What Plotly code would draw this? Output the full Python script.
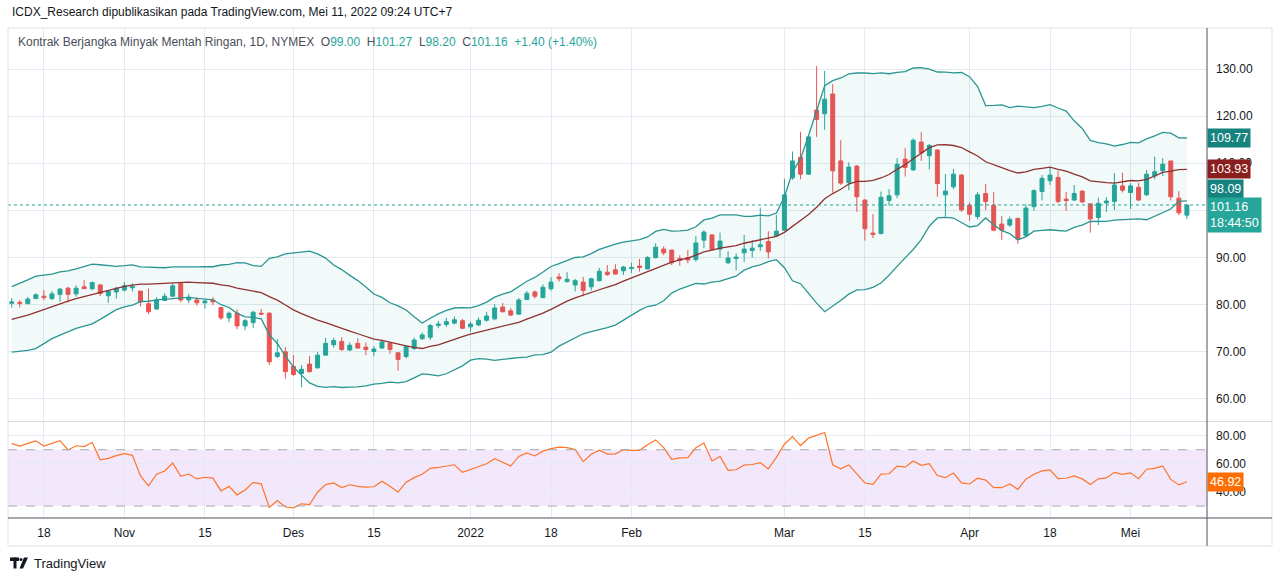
import numpy as np
import pandas as pd
import plotly.graph_objects as go

W, H = 1280, 581

# closes before the first visible session, only used to warm up the indicators
prior_close = [66.29, 66.59, 65.46, 63.69, 62.32, 65.64, 67.54, 68.36, 67.42, 68.74,
               69.21, 68.50, 68.59, 69.99, 69.29, 68.35, 69.30, 68.14, 69.72, 70.45,
               70.46, 72.61, 72.61, 71.97, 70.29, 70.56, 72.23, 73.30, 73.98, 75.45,
               75.29, 74.83, 75.03, 75.88, 77.62, 78.93, 77.43, 78.30, 79.35, 80.52]

holidays = ["2021-11-25", "2021-12-24", "2022-01-17", "2022-02-21", "2022-04-15"]
days = [d.strftime("%Y-%m-%d") for d in pd.bdate_range("2021-10-12", "2022-05-11")
        if d.strftime("%Y-%m-%d") not in holidays]

open_ = [80.3, 80.5, 80.2, 81.3, 81.8, 81.3, 82.2, 83.5, 82.3, 83.8, 83.4, 84.2, 81.9, 82.7,
         83.1, 83.6, 82.9, 80.2, 79.1, 80.9, 81.8, 84.5, 81.0, 81.0, 80.4, 81.0, 79.4, 77.2,
         78.2, 75.5, 76.2, 78.2, 78.2, 69.0, 70.0,
         66.9, 65.4, 67.4, 66.6, 69.3, 71.5, 72.2, 70.4, 71.8, 71.0, 70.1, 70.8, 71.8, 69.8,
         69.0, 70.7, 72.8, 73.1, 75.6, 75.8, 76.1, 76.6,
         75.3, 75.7, 76.7, 77.0, 79.5, 78.7, 78.0, 81.1, 82.7, 81.5, 83.4, 85.9, 84.9, 84.2,
         84.8, 83.8, 85.1, 86.9, 87.4, 87.2,
         87.7, 88.2, 87.6, 90.0, 91.8, 91.6, 89.8, 90.0, 89.6, 93.7, 94.8, 91.8, 88.9, 89.8,
         91.0, 91.5, 92.3, 93.4, 94.6,
         95.8, 106.9, 111.3, 107.7, 121.3, 120.5, 124.7, 110.5, 105.9, 109.4, 102.2, 95.2,
         95.1, 102.1, 103.3, 110.9, 108.6, 114.5, 111.6, 112.8, 103.3, 105.0, 107.5,
         101.1, 98.7, 103.6, 101.1, 97.1, 96.9, 98.3, 94.7, 100.8, 104.0, 106.3, 107.0,
         102.4, 102.2, 104.1, 101.4, 98.5, 101.6, 101.9, 105.2,
         103.8, 104.9, 103.3, 107.3, 108.4, 110.5, 102.6, 99.00]
high = [81.4, 81.0, 81.6, 82.4, 83.1, 82.9, 83.5, 83.8, 84.1, 85.2, 84.9, 84.3, 83.0, 83.8,
        84.8, 84.5, 82.9, 83.4, 81.6, 82.4, 84.5, 84.7, 82.3, 81.6, 81.0, 81.6, 79.4, 78.6,
        79.0, 77.0, 78.7, 79.1, 78.4, 72.7, 71.0,
        69.3, 67.2, 69.1, 70.0, 73.0, 73.0, 73.1, 72.0, 72.9, 72.0, 71.2, 72.4, 72.1, 69.8,
        71.4, 73.0, 74.1, 75.9, 76.6, 77.2, 77.5, 77.0,
        76.4, 77.3, 78.5, 80.1, 80.4, 79.3, 81.4, 82.9, 83.0, 84.3, 85.8, 86.7, 86.9, 85.5,
        85.9, 85.7, 87.8, 88.4, 88.6, 88.2,
        88.9, 89.7, 90.3, 93.0, 92.4, 91.6, 90.5, 91.6, 94.6, 95.8, 95.0, 95.3, 91.3, 90.9,
        94.8, 93.7, 100.6, 95.6, 99.0,
        106.7, 112.5, 116.7, 115.8, 130.6, 129.6, 126.8, 114.9, 110.2, 109.6, 102.4, 99.2,
        104.0, 104.5, 111.1, 113.2, 115.3, 116.6, 114.1, 113.0, 107.7, 108.8, 107.7,
        101.7, 103.9, 105.6, 103.9, 98.8, 98.7, 98.5, 101.3, 104.5, 107.5, 109.1, 108.4,
        103.9, 105.4, 104.2, 101.5, 102.7, 102.8, 107.9, 108.0,
        105.8, 105.8, 108.6, 111.4, 111.1, 110.5, 104.1, 101.27]
low = [79.4, 79.4, 80.2, 81.3, 81.0, 81.0, 80.6, 80.5, 81.7, 83.4, 83.0, 81.8, 80.4, 81.3,
       82.8, 82.8, 79.6, 78.0, 78.9, 80.8, 81.7, 80.5, 80.3, 79.8, 79.2, 79.9, 76.8, 76.3,
       74.8, 74.6, 75.1, 77.8, 67.2, 68.7, 64.3,
       64.9, 62.5, 65.6, 66.5, 69.3, 70.9, 70.2, 70.2, 70.7, 69.3, 69.1, 70.7, 69.6, 66.0,
       68.6, 70.4, 72.5, 72.5, 75.0, 75.3, 75.8, 74.8,
       74.3, 75.5, 76.4, 76.7, 78.4, 77.6, 77.9, 81.0, 81.3, 81.4, 83.0, 84.9, 84.7, 82.8,
       81.8, 83.0, 84.9, 86.1, 86.4, 86.3,
       86.7, 87.0, 87.5, 89.8, 90.5, 88.4, 88.3, 88.8, 89.1, 92.0, 91.6, 90.0, 88.6, 87.3,
       89.1, 90.0, 91.4, 89.8, 94.6,
       95.8, 106.5, 106.6, 107.5, 115.6, 117.1, 103.8, 105.4, 104.3, 99.7, 93.6, 94.1,
       94.9, 101.0, 102.6, 107.2, 108.4, 110.5, 108.7, 102.9, 98.7, 104.5, 99.7,
       97.8, 98.1, 100.1, 95.6, 93.7, 96.5, 92.9, 94.5, 99.9, 102.1, 105.4, 101.5,
       99.9, 102.0, 101.6, 95.3, 96.9, 99.7, 100.1, 103.8,
       100.3, 102.0, 103.1, 106.6, 107.3, 102.1, 99.0, 98.20]
close = [80.6, 80.3, 81.2, 82.1, 81.5, 82.3, 83.3, 82.2, 83.5, 83.4, 84.7, 82.4, 82.8, 83.5,
         84.0, 83.8, 80.6, 78.5, 81.0, 81.8, 84.0, 81.0, 81.6, 80.4, 80.8, 80.6, 77.2, 78.2,
         75.5, 76.6, 78.4, 78.0, 67.9, 69.8, 65.8,
         65.2, 66.3, 65.8, 69.3, 71.8, 72.4, 70.5, 71.4, 70.8, 70.5, 70.6, 72.1, 70.5, 68.4,
         71.1, 72.5, 73.6, 75.6, 75.9, 76.4, 76.8, 75.0,
         75.9, 76.7, 77.6, 79.3, 78.5, 77.8, 81.0, 82.4, 81.8, 83.7, 84.8, 85.5, 85.4, 85.1,
         83.0, 85.5, 87.1, 86.4, 86.5, 88.0,
         87.9, 87.9, 90.0, 92.2, 91.0, 88.9, 89.4, 89.5, 93.1, 95.4, 91.7, 93.5, 89.9, 90.1,
         91.8, 92.0, 92.7, 91.2, 95.6,
         103.3, 110.5, 107.7, 115.6, 119.3, 123.6, 108.4, 105.8, 109.2, 102.9, 96.1, 94.9,
         102.8, 103.1, 109.8, 109.1, 114.9, 112.2, 113.8, 105.7, 104.1, 107.7, 100.1,
         99.2, 103.3, 101.9, 95.8, 95.8, 98.1, 93.9, 100.5, 104.2, 106.8, 107.5, 101.9,
         102.1, 103.6, 101.8, 98.2, 101.5, 102.0, 105.4, 104.3,
         105.2, 102.2, 107.7, 108.2, 109.8, 102.9, 99.5, 101.16]

tick_days = ["2021-10-18", "2021-11-01", "2021-11-15", "2021-12-01", "2021-12-15", "2022-01-03",
             "2022-01-18", "2022-02-01", "2022-03-01", "2022-03-15", "2022-04-01", "2022-04-18",
             "2022-05-02"]
tick_text = ["18", "Nov", "15", "Des", "15", "2022", "18", "Feb", "Mar", "15", "Apr", "18", "Mei"]

# values shown in the price-scale labels / legend
bb_upper_last, bb_basis_last, bb_lower_last = 109.77, 103.93, 98.09
rsi_last = 46.92
countdown = "18:44:50"
change_text = "+1.40 (+1.40%)"

# ---- indicators: Bollinger Bands (20, 2) and RSI (14)
all_close = pd.Series(prior_close + close)
basis = all_close.rolling(20).mean()
dev = all_close.rolling(20).std(ddof=0)
n_prior = len(prior_close)
bb_basis = basis[n_prior:].to_numpy()
bb_upper = (basis + 2 * dev)[n_prior:].to_numpy()
bb_lower = (basis - 2 * dev)[n_prior:].to_numpy()

diff = all_close.diff().to_numpy()[1:]
gains, losses = np.clip(diff, 0, None), np.clip(-diff, 0, None)
ag, al = gains[:14].mean(), losses[:14].mean()
rsi_all = [np.nan] * 14
for g, l in zip(gains[14:], losses[14:]):
    ag = (ag * 13 + g) / 14
    al = (al * 13 + l) / 14
    rsi_all.append(100 - 100 / (1 + ag / al) if al > 0 else 100)
rsi = np.array(rsi_all)[n_prior - 1:]

# ---- geometry helpers (pixel -> paper)
def px(x):
    return x / W

def py(y):
    return 1 - y / H

X0, X1 = 8, 1207
grid = "#e4eaf1"
teal, red = "#26A69A", "#EF5350"
font = "Liberation Sans"

fig = go.Figure()
fig.add_trace(go.Candlestick(
    x=days, open=open_, high=high, low=low, close=close,
    increasing=dict(line=dict(color=teal, width=1), fillcolor=teal),
    decreasing=dict(line=dict(color=red, width=1), fillcolor=red),
    whiskerwidth=0, xaxis="x", yaxis="y", showlegend=False, hoverinfo="skip"))
fig.add_trace(go.Scatter(x=days, y=bb_upper, mode="lines", line=dict(color="#2b9691", width=1.3),
                         xaxis="x", yaxis="y3", showlegend=False, hoverinfo="skip"))
fig.add_trace(go.Scatter(x=days, y=bb_lower, mode="lines", line=dict(color="#2b9691", width=1.3),
                         fill="tonexty", fillcolor="rgba(38,150,145,0.06)",
                         xaxis="x", yaxis="y3", showlegend=False, hoverinfo="skip"))
fig.add_trace(go.Scatter(x=days, y=bb_basis, mode="lines", line=dict(color="#8e3131", width=1.3),
                         xaxis="x", yaxis="y3", showlegend=False, hoverinfo="skip"))
fig.add_trace(go.Scatter(x=days, y=rsi, mode="lines", line=dict(color="#FF7428", width=1.2),
                         xaxis="x2", yaxis="y2", showlegend=False, hoverinfo="skip"))

xr = [-0.46, 148.5]
axis_font = dict(family=font, size=12, color="#131722")
fig.update_layout(
    width=W, height=H, margin=dict(l=0, r=0, t=0, b=0),
    paper_bgcolor="white", plot_bgcolor="rgba(0,0,0,0)",
    font=dict(family=font, size=12, color="#131722"),
    xaxis=dict(domain=[px(X0), px(X1)], anchor="y", type="category", range=xr,
               rangeslider=dict(visible=False), tickvals=tick_days, ticktext=tick_text,
               showticklabels=False, showgrid=True, gridcolor=grid, zeroline=False,
               matches="x2"),
    xaxis2=dict(domain=[px(X0), px(X1)], anchor="y2", type="category", range=xr,
                tickvals=tick_days, ticktext=tick_text, showgrid=True, gridcolor=grid,
                tickfont=axis_font, ticks="", ticklabelstandoff=6, zeroline=False),
    yaxis=dict(domain=[py(421), py(28)], anchor="x", side="right", range=[55.33, 138.7],
               dtick=10, tickformat=".2f", showgrid=True, gridcolor=grid, zeroline=False,
               tickfont=axis_font, ticks="", ticklabelstandoff=8),
    # the bands sit on their own (hidden) overlay scale, as in the original
    yaxis3=dict(overlaying="y", range=[56.06, 130.63], visible=False),
    yaxis2=dict(domain=[py(518), py(422)], anchor="x2", side="right", range=[21.5, 89.7],
                tickvals=[40, 60, 80], tickformat=".2f", showgrid=True, gridcolor=grid,
                zeroline=False, tickfont=axis_font, ticks="", ticklabelstandoff=8),
)

shapes = [
    # RSI band 30-70
    dict(type="rect", xref="paper", yref="y2", x0=px(X0), x1=px(X1), y0=30, y1=70,
         fillcolor="#f3e7fc", line=dict(width=0), layer="below"),
    dict(type="line", xref="paper", yref="y2", x0=px(X0), x1=px(X1), y0=70, y1=70,
         line=dict(color="#a5a7b0", width=1, dash="dash")),
    dict(type="line", xref="paper", yref="y2", x0=px(X0), x1=px(X1), y0=30, y1=30,
         line=dict(color="#a5a7b0", width=1, dash="dash")),
    # last price dotted line
    dict(type="line", xref="paper", yref="y", x0=px(X0), x1=px(X1), y0=close[-1], y1=close[-1],
         line=dict(color=teal, width=1, dash="dot")),
    # chart frame
    dict(type="rect", xref="paper", yref="paper", x0=px(8), x1=px(1272), y0=py(546), y1=py(28),
         line=dict(color="#e0e3eb", width=1)),
    dict(type="line", xref="paper", yref="paper", x0=px(8), x1=px(1272), y0=py(421.5), y1=py(421.5),
         line=dict(color="#d6d9e0", width=1)),
    dict(type="line", xref="paper", yref="paper", x0=px(8), x1=px(1272), y0=py(518), y1=py(518),
         line=dict(color="#50535e", width=1)),
    dict(type="line", xref="paper", yref="paper", x0=px(1207), x1=px(1207), y0=py(546), y1=py(28),
         line=dict(color="#50535e", width=1)),
    # TradingView logo
    dict(type="rect", xref="paper", yref="paper", x0=px(10), x1=px(19), y0=py(561), y1=py(557.5),
         fillcolor="#131722", line=dict(width=0)),
    dict(type="rect", xref="paper", yref="paper", x0=px(13.5), x1=px(16.5), y0=py(568.5), y1=py(557.5),
         fillcolor="#131722", line=dict(width=0)),
    dict(type="circle", xref="paper", yref="paper", x0=px(19.5), x1=px(22.5), y0=py(561), y1=py(558),
         fillcolor="#131722", line=dict(width=0)),
    dict(type="path", xref="paper", yref="paper",
         path=f"M {px(24)} {py(557.5)} L {px(28)} {py(557.5)} L {px(23)} {py(568.5)} L {px(19.5)} {py(568.5)} Z",
         fillcolor="#131722", line=dict(width=0)),
]
fig.update_layout(shapes=shapes)


def price_label(text, y, yref, bg, yshift=0, yanchor="middle"):
    return dict(x=px(1207), xref="paper", xanchor="left", y=y, yref=yref, yanchor=yanchor,
                yshift=yshift, text=text, showarrow=False, align="left", bgcolor=bg,
                borderpad=2, font=dict(family=font, size=12.5, color="white"))


def val(v):
    return f"<span style='color:{teal}'>{v:.2f}</span>"


legend_text = ("Kontrak Berjangka Minyak Mentah Ringan, 1D, NYMEX&nbsp;&nbsp;"
               f"O{val(open_[-1])}&nbsp;&nbsp;H{val(high[-1])}&nbsp;&nbsp;"
               f"L{val(low[-1])}&nbsp;&nbsp;C{val(close[-1])}&nbsp;&nbsp;"
               f"<span style='color:{teal}'>{change_text}</span>")

annotations = [
    dict(x=px(10), y=py(12), xref="paper", yref="paper", xanchor="left", yanchor="middle",
         text="ICDX_Research dipublikasikan pada TradingView.com, Mei 11, 2022 09:24 UTC+7",
         showarrow=False, font=dict(family=font, size=12, color="#131722")),
    dict(x=px(16), y=py(42), xref="paper", yref="paper", xanchor="left", yanchor="middle",
         text=legend_text, showarrow=False, font=dict(family=font, size=12, color="#4a4e59")),
    dict(x=px(32), y=py(563), xref="paper", yref="paper", xanchor="left", yanchor="middle",
         text="TradingView", showarrow=False, font=dict(family=font, size=13, color="#131722")),
    price_label(f"{bb_upper_last:.2f}", bb_upper_last, "y3", "#16837f"),
    price_label(f"{bb_basis_last:.2f}", bb_basis_last, "y3", "#8a1d1d"),
    price_label(f"{bb_lower_last:.2f}", bb_lower_last, "y3", "#16837f", yshift=10.5),
    price_label(f"{close[-1]:.2f}<br>{countdown}", close[-1], "y", teal, yshift=8, yanchor="top"),
    price_label(f"{rsi_last:.2f}", rsi_last, "y2", "#FF6D00"),
]
fig.update_layout(annotations=annotations)

# drop the browser's default page margin so the figure fills the window exactly
fig.write_html("out.html", config={"displayModeBar": False},
               post_script="document.body.style.margin='0';document.body.style.padding='0';")
